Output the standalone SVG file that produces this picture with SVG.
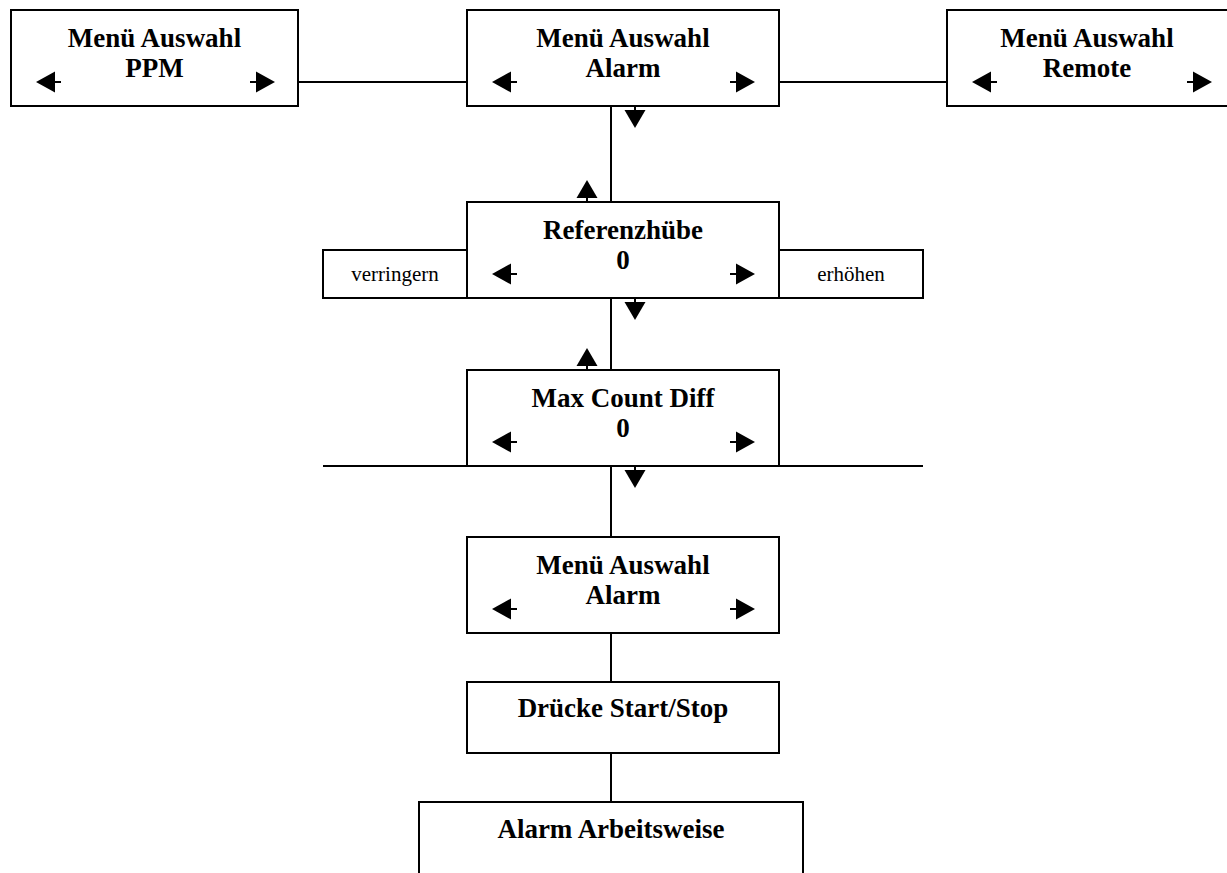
<svg xmlns="http://www.w3.org/2000/svg" xmlns:xlink="http://www.w3.org/1999/xlink" width="1227" height="873" viewBox="0 0 1227 873">
  <style>
    .box { fill: #fff; stroke: #000; stroke-width: 2; }
    .wire { fill: none; stroke: #000; stroke-width: 2; }
    .title { font-family: "Liberation Serif", "Times New Roman", serif; font-weight: bold; font-size: 27px; fill: #000; text-anchor: middle; }
    .small { font-family: "Liberation Serif", "Times New Roman", serif; font-size: 21px; fill: #000; text-anchor: middle; }
    .head { fill: #000; }
    .stub { stroke: #000; stroke-width: 2; fill: none; }
  </style>
  <defs>
    <!-- left-pointing key arrow, tip at origin -->
    <g id="keyL">
      <path class="head" d="M0,0 L19,-10.5 L19,10.5 Z"/>
      <path class="stub" d="M18,0 H25"/>
    </g>
    <!-- right-pointing key arrow, tip at origin -->
    <g id="keyR">
      <path class="head" d="M0,0 L-19,-10.5 L-19,10.5 Z"/>
      <path class="stub" d="M-18,0 H-25"/>
    </g>
    <!-- downward arrow hanging below a box edge (origin at edge) -->
    <g id="keyD">
      <path class="stub" d="M0,0 V5"/>
      <path class="head" d="M0,22 L-10.5,4 L10.5,4 Z"/>
    </g>
    <!-- upward arrow standing on a box edge (origin at edge) -->
    <g id="keyU">
      <path class="stub" d="M0,0 V-5"/>
      <path class="head" d="M0,-22 L-10.5,-4 L10.5,-4 Z"/>
    </g>
  </defs>

  <!-- connectors -->
  <g id="connectors">
    <path class="wire" d="M298,82 H467"/>
    <path class="wire" d="M779,82 H947"/>
    <path class="wire" d="M611,106 V202"/>
    <path class="wire" d="M611,298 V370"/>
    <path class="wire" d="M323,466 H923"/>
    <path class="wire" d="M611,466 V537"/>
    <path class="wire" d="M611,633 V682"/>
    <path class="wire" d="M611,753 V802"/>
    <use xlink:href="#keyD" x="635" y="106"/>
    <use xlink:href="#keyU" x="587" y="202"/>
    <use xlink:href="#keyD" x="635" y="298"/>
    <use xlink:href="#keyU" x="587" y="370"/>
    <use xlink:href="#keyD" x="635" y="466"/>
  </g>

  <g id="menu-ppm">
    <rect class="box" x="11" y="10" width="287" height="96"/>
    <text class="title" x="154.5" y="47">Menü Auswahl</text>
    <text class="title" x="154.5" y="77">PPM</text>
    <use xlink:href="#keyL" x="36" y="82"/>
    <use xlink:href="#keyR" x="275" y="82"/>
  </g>

  <g id="menu-alarm">
    <rect class="box" x="467" y="10" width="312" height="96"/>
    <text class="title" x="623" y="47">Menü Auswahl</text>
    <text class="title" x="623" y="77">Alarm</text>
    <use xlink:href="#keyL" x="492" y="82"/>
    <use xlink:href="#keyR" x="755" y="82"/>
  </g>

  <g id="menu-remote">
    <rect class="box" x="947" y="10" width="284" height="96"/>
    <text class="title" x="1087" y="47">Menü Auswahl</text>
    <text class="title" x="1087" y="77">Remote</text>
    <use xlink:href="#keyL" x="972" y="82"/>
    <use xlink:href="#keyR" x="1212" y="82"/>
  </g>

  <g id="verringern">
    <rect class="box" x="323" y="250" width="144" height="48"/>
    <text class="small" x="395" y="281">verringern</text>
  </g>

  <g id="erhoehen">
    <rect class="box" x="779" y="250" width="144" height="48"/>
    <text class="small" x="851" y="281">erhöhen</text>
  </g>

  <g id="referenzhuebe">
    <rect class="box" x="467" y="202" width="312" height="96"/>
    <text class="title" x="623" y="239">Referenzhübe</text>
    <text class="title" x="623" y="269">0</text>
    <use xlink:href="#keyL" x="492" y="274"/>
    <use xlink:href="#keyR" x="755" y="274"/>
  </g>

  <g id="max-count-diff">
    <rect class="box" x="467" y="370" width="312" height="96"/>
    <text class="title" x="623" y="407">Max Count Diff</text>
    <text class="title" x="623" y="437">0</text>
    <use xlink:href="#keyL" x="492" y="442"/>
    <use xlink:href="#keyR" x="755" y="442"/>
  </g>

  <g id="menu-alarm-2">
    <rect class="box" x="467" y="537" width="312" height="96"/>
    <text class="title" x="623" y="574">Menü Auswahl</text>
    <text class="title" x="623" y="604">Alarm</text>
    <use xlink:href="#keyL" x="492" y="609"/>
    <use xlink:href="#keyR" x="755" y="609"/>
  </g>

  <g id="start-stop">
    <rect class="box" x="467" y="682" width="312" height="71"/>
    <text class="title" x="623" y="717">Drücke Start/Stop</text>
  </g>

  <g id="alarm-arbeitsweise">
    <rect class="box" x="419" y="802" width="384" height="90"/>
    <text class="title" x="611" y="838">Alarm Arbeitsweise</text>
  </g>
</svg>
